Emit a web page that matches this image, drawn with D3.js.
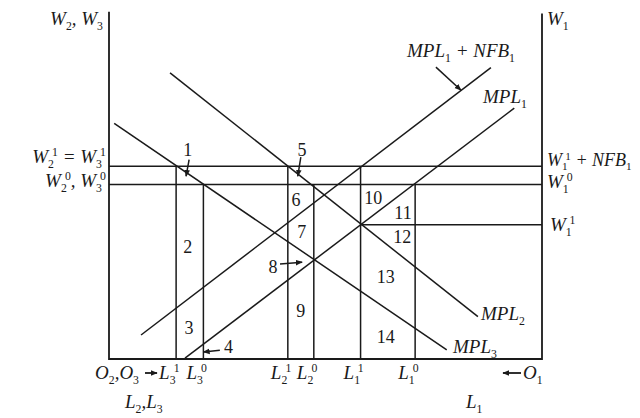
<!DOCTYPE html>
<html>
<head>
<meta charset="utf-8">
<script src="https://cdn.jsdelivr.net/npm/d3@7"></script>
<style>
body { margin: 0; background: #fff; }
text { font-family: "Liberation Serif", "DejaVu Serif", serif; fill: #1a1a1a; }
</style>
</head>
<body>
<div id="chart"></div>
<script>
// labour employed in each sector, measured from O2,O3 (left) in labour units
var laborNames  = ["L_3^1", "L_3^0", "L_2^1", "L_2^0", "L_1^1", "L_1^0"];
var laborValues = [15.5, 21.8, 41.3, 47.3, 58.1, 70.7];
var laborTop    = [44.2, 40.0, 44.2, 40.0, 44.2, 40.0];   // wage each vertical reaches

// wage levels
var wageHigh = 44.2;   // W2^1 = W3^1 , W1^1 + NFB1
var wageLow  = 40.0;   // W2^0, W3^0 , W1^0
var wageOne  = 30.8;   // W1^1

// marginal product schedules (labour, wage)
var mpl1    = [[17.55, 0.2], [93.6, 57.5]];
var mpl1nfb = [[7.4, 5.5], [88.2, 66.8]];
var mpl2    = [[14.1, 65.6], [85.2, 9.7]];
var mpl3    = [[1.2, 54.0], [78.0, 2.1]];

// numbered areas
var areaNames = ["1","2","3","4","5","6","7","8","9","10","11","12","13","14"];
var areaSpots = [[18.2,47.9],[18.2,25.7],[18.5,7.1],[27.6,2.8],[44.6,47.9],[43.2,36.4],[44.5,29.0],
                 [37.9,21.2],[44.3,11.1],[61.0,36.9],[67.9,33.5],[67.7,28.0],[63.9,18.9],[63.9,5.1]];

var width = 640, height = 418;

var svg = d3.select("#chart").append("svg")
	.attr("width", width)
	.attr("height", height);

var x = d3.scaleLinear().domain([0, 100]).range([109, 542]);
var y = d3.scaleLinear().domain([0, 80]).range([359, 10]);

svg.append("defs").append("marker")
	.attr("id", "head")
	.attr("viewBox", "0 0 10 10")
	.attr("refX", 9).attr("refY", 5)
	.attr("markerWidth", 7).attr("markerHeight", 7)
	.attr("markerUnits", "userSpaceOnUse")
	.attr("orient", "auto")
	.append("path")
	.attr("d", "M0,1 L10,5 L0,9 Z")
	.attr("fill", "#1a1a1a");

var ink = "#1a1a1a";
var line = d3.line().x((d) => x(d[0])).y((d) => y(d[1]));

// writes labels like W_2^1 with sub and superscripts
function rich(sel, px, py, str, size, anchor) {
	var t = sel.append("text")
		.attr("x", px).attr("y", py)
		.attr("font-size", size)
		.attr("text-anchor", anchor || "start");
	var shift = 0, run = "", last = "";
	function flush() {
		if (!run) return;
		t.append("tspan").attr("dy", -shift).attr("font-style", "italic").text(run);
		shift = 0; run = ""; last = "n";
	}
	for (var i = 0; i < str.length; i++) {
		var c = str[i];
		if (c === "_" || c === "^") {
			flush();
			var target = c === "_" ? size * 0.24 : -size * 0.36;
			var ts = t.append("tspan").attr("dy", target - shift).attr("font-size", size * 0.62).text(str[i + 1]);
			if (c === "^" && last === "_") ts.attr("dx", -size * 0.1);
			shift = target;
			last = c;
			i++;
		} else {
			run += c;
		}
	}
	flush();
	return t;
}

// the two vertical wage axes and the labour axis
svg.append("path")
	.attr("d", line([[0, 79.6], [0, 0], [100, 0], [100, 79.2]]))
	.attr("fill", "none").attr("stroke", ink).attr("stroke-width", 1.8);

// wage lines
svg.selectAll(".wage")
	.data([wageHigh, wageLow])
	.enter().append("line")
	.attr("x1", x(0)).attr("x2", x(100))
	.attr("y1", (d) => y(d)).attr("y2", (d) => y(d))
	.attr("stroke", ink).attr("stroke-width", 1.5);

svg.append("line")
	.attr("x1", x(laborValues[4])).attr("x2", x(100))
	.attr("y1", y(wageOne)).attr("y2", y(wageOne))
	.attr("stroke", ink).attr("stroke-width", 1.5);

// employment verticals
svg.selectAll(".emp")
	.data(laborValues)
	.enter().append("line")
	.attr("x1", (d) => x(d)).attr("x2", (d) => x(d))
	.attr("y1", y(0)).attr("y2", (d, i) => y(laborTop[i]))
	.attr("stroke", ink).attr("stroke-width", 1.5);

// MPL schedules
[mpl1, mpl1nfb, mpl2, mpl3].forEach((d) => {
	svg.append("path").attr("d", line(d))
		.attr("fill", "none").attr("stroke", ink).attr("stroke-width", 1.5);
});

// numbered areas
svg.selectAll(".area")
	.data(areaNames)
	.enter().append("text")
	.attr("x", (d, i) => x(areaSpots[i][0]))
	.attr("y", (d, i) => y(areaSpots[i][1]) + 6)
	.attr("text-anchor", "middle")
	.attr("font-size", 18)
	.text((d) => d);

// small pointer arrows
var pointers = [
	[[18.5, 45.7], [17.8, 41.9]],
	[[44.3, 46.3], [43.6, 41.9]],
	[[39.5, 21.8], [44.6, 22.2]],
	[[25.6, 2.0], [21.8, 1.6]],
	[[75.5, 66.9], [81.3, 61.6]]
];
pointers.forEach((p) => {
	svg.append("path").attr("d", line(p))
		.attr("stroke", ink).attr("stroke-width", 1.5)
		.attr("marker-end", "url(#head)");
});

// axis labels
rich(svg, 103, 25, "W_2, W_3", 19, "end");
rich(svg, 547, 25, "W_1", 19, "start");
rich(svg, 106, 163, "W_2^1  =  W_3^1", 19, "end");
rich(svg, 106, 187, "W_2^0, W_3^0", 19, "end");
rich(svg, 547, 166, "W_1^1 + NFB_1", 18, "start");
rich(svg, 547, 188, "W_1^0", 19, "start");
rich(svg, 550, 231, "W_1^1", 19, "start");

rich(svg, 407, 57, "MPL_1  + NFB_1", 19, "start");
rich(svg, 483, 103, "MPL_1", 19, "start");
rich(svg, 481, 320, "MPL_2", 19, "start");
rich(svg, 453, 353, "MPL_3", 19, "start");

// labour axis labels
laborNames.forEach((n, i) => {
	rich(svg, x(laborValues[i]) - 17, 379, n, 19, "start");
});
rich(svg, 95, 379, "O_2,O_3", 19, "start");
svg.append("line")
	.attr("x1", 145).attr("x2", 157).attr("y1", 373).attr("y2", 373)
	.attr("stroke", ink).attr("stroke-width", 1.8)
	.attr("marker-end", "url(#head)");
rich(svg, 125, 408, "L_2,L_3", 19, "start");

svg.append("line")
	.attr("x1", 521).attr("x2", 503).attr("y1", 373).attr("y2", 373)
	.attr("stroke", ink).attr("stroke-width", 1.8)
	.attr("marker-end", "url(#head)");
rich(svg, 523, 379, "O_1", 19, "start");
rich(svg, 466, 408, "L_1", 19, "start");
</script>
</body>
</html>
